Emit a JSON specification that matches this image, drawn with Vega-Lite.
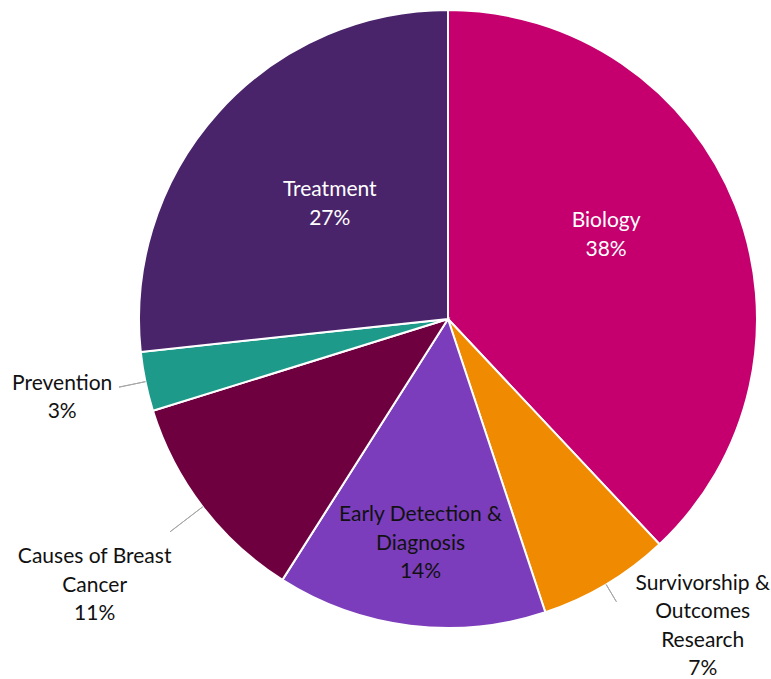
{
  "$schema": "https://vega.github.io/schema/vega-lite/v6.json",
  "width": 618,
  "height": 618,
  "autosize": {"type": "none"},
  "padding": {"left": 139, "top": 10, "right": 14, "bottom": 51},
  "background": "white",
  "view": {"stroke": null},
  "config": {"text": {"font": "Lato", "fontSize": 21, "lineBreak": "\n", "lineHeight": 28.5, "align": "center", "baseline": "middle"}},
  "data": {
    "values": [
      {"category": "Biology", "value": 38.0, "rank": 1, "label": "Biology\n38%"},
      {"category": "Survivorship & Outcomes Research", "value": 6.9, "rank": 2, "label": "Survivorship &\nOutcomes\nResearch\n7%"},
      {"category": "Early Detection & Diagnosis", "value": 14.1, "rank": 3, "label": "Early Detection &\nDiagnosis\n14%"},
      {"category": "Causes of Breast Cancer", "value": 11.2, "rank": 4, "label": "Causes of Breast\nCancer\n11%"},
      {"category": "Prevention", "value": 3.1, "rank": 5, "label": "Prevention\n3%"},
      {"category": "Treatment", "value": 26.7, "rank": 6, "label": "Treatment\n27%"}
    ]
  },
  "encoding": {
    "theta": {"field": "value", "type": "quantitative", "stack": true},
    "order": {"field": "rank", "type": "quantitative", "sort": "ascending"},
    "detail": {"field": "category", "type": "nominal"}
  },
  "layer": [
    {
      "mark": {"type": "arc", "outerRadius": 309, "stroke": "white", "strokeWidth": 2},
      "encoding": {
        "color": {
          "field": "category",
          "type": "nominal",
          "scale": {
            "domain": ["Biology", "Survivorship & Outcomes Research", "Early Detection & Diagnosis", "Causes of Breast Cancer", "Prevention", "Treatment"],
            "range": ["#C5006E", "#F08A00", "#7B3DBB", "#6F003F", "#1E9A8A", "#4A246B"]
          },
          "legend": null
        }
      }
    },
    {
      "mark": {"type": "arc", "radius": 329, "radius2": 309, "padAngle": 3, "fill": null, "strokeWidth": 1},
      "encoding": {"stroke": {"condition": {"test": "datum.category === 'Survivorship & Outcomes Research'", "value": "#A6A6A6"}, "value": null}}
    },
    {
      "mark": {"type": "arc", "radius": 350, "radius2": 309, "padAngle": 3, "fill": null, "strokeWidth": 1},
      "encoding": {"stroke": {"condition": {"test": "datum.category === 'Causes of Breast Cancer'", "value": "#A6A6A6"}, "value": null}}
    },
    {
      "mark": {"type": "arc", "radius": 336, "radius2": 309, "padAngle": 3, "fill": null, "strokeWidth": 1},
      "encoding": {"stroke": {"condition": {"test": "datum.category === 'Prevention'", "value": "#A6A6A6"}, "value": null}}
    },
    {
      "mark": {"type": "text", "radius": 170, "dy": -35, "fill": "white"},
      "encoding": {"text": {"condition": {"test": "datum.category === 'Biology'", "field": "label"}, "value": ""}}
    },
    {
      "mark": {"type": "text", "radius": 163, "dx": 3, "dy": -20, "fill": "white"},
      "encoding": {"text": {"condition": {"test": "datum.category === 'Treatment'", "field": "label"}, "value": ""}}
    },
    {
      "mark": {"type": "text", "radius": 225, "dy": -27, "fill": "#111111"},
      "encoding": {"text": {"condition": {"test": "datum.category === 'Early Detection & Diagnosis'", "field": "label"}, "value": ""}}
    },
    {
      "mark": {"type": "text", "radius": 400, "dx": 50, "dy": -79, "fill": "#111111"},
      "encoding": {"text": {"condition": {"test": "datum.category === 'Survivorship & Outcomes Research'", "field": "label"}, "value": ""}}
    },
    {
      "mark": {"type": "text", "radius": 440, "dx": -4, "dy": -29, "fill": "#111111"},
      "encoding": {"text": {"condition": {"test": "datum.category === 'Causes of Breast Cancer'", "field": "label"}, "value": ""}}
    },
    {
      "mark": {"type": "text", "radius": 394, "dy": -15, "fill": "#111111"},
      "encoding": {"text": {"condition": {"test": "datum.category === 'Prevention'", "field": "label"}, "value": ""}}
    }
  ]
}
